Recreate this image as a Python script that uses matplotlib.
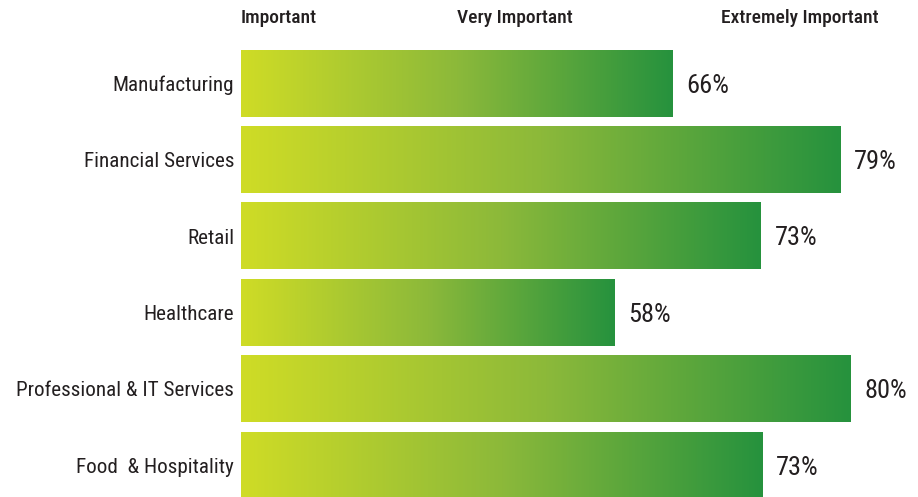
import numpy as np
import matplotlib
matplotlib.use("Agg")
import matplotlib.pyplot as plt
from matplotlib import font_manager
from matplotlib.colors import LinearSegmentedColormap

# データ
categories = ["Manufacturing", "Financial Services", "Retail", "Healthcare",
              "Professional & IT Services", "Food  & Hospitality"]
percent_labels = [66, 79, 73, 58, 80, 73]
# 棒の長さ(重要度スケール, 0-100)
scores = [63.8, 88.6, 76.8, 55.2, 90.1, 77.0]
header_labels = ["Important", "Very Important", "Extremely Important"]
header_pos = [5.5, 40.5, 82.6]

# 細身のフォントがあればそれを使う
names = {f.name for f in font_manager.fontManager.ttflist}
family = 'DejaVu Sans'
for cand in ['Roboto Condensed', 'Liberation Sans Narrow', 'Open Sans Condensed', 'Roboto', 'Liberation Sans']:
    if cand in names:
        family = cand
        break
narrow = family in ['Roboto Condensed', 'Liberation Sans Narrow', 'Open Sans Condensed']
plt.rcParams['font.family'] = [family, 'DejaVu Sans']

text_color = '#231f20'
grad = LinearSegmentedColormap.from_list('grad', ['#cfdc26', '#8cb93a', '#26923e'])

fig = plt.figure(figsize=(9.18, 4.97), dpi=100)
ax = fig.add_axes([241 / 918, 0, 677 / 918, 1])

y = np.arange(len(categories))
bars = ax.barh(y, scores, height=0.87, color='none', edgecolor='none')

# グラデーションを各棒に描く
g = np.linspace(0, 1, 256).reshape(1, -1)
for b in bars:
    x0, y0 = b.get_x(), b.get_y()
    w, h = b.get_width(), b.get_height()
    ax.imshow(g, cmap=grad, aspect='auto', extent=(x0, x0 + w, y0 + h, y0),
              interpolation='bicubic', zorder=2)

val_size = 19 if narrow else 16
cat_size = 15.2 if narrow else 13
head_size = 14 if narrow else 11.5

for yi, s, p in zip(y, scores, percent_labels):
    ax.text(s + 2.0, yi + 0.03, f"{p}%", va='center', ha='left',
            fontsize=val_size, color=text_color)

for lab, xp in zip(header_labels, header_pos):
    ax.text(xp, -0.86, lab, ha='center', va='center', fontsize=head_size,
            color=text_color, fontweight='medium')

ax.set_xlim(0, 100)
ax.set_ylim(5.415, -1.09)
ax.set_yticks(y)
ax.set_yticklabels(categories, fontsize=cat_size, color=text_color)
ax.tick_params(axis='y', length=0, pad=5)
ax.set_xticks([])
for sp in ax.spines.values():
    sp.set_visible(False)

fig.savefig('out.png', dpi=100)
